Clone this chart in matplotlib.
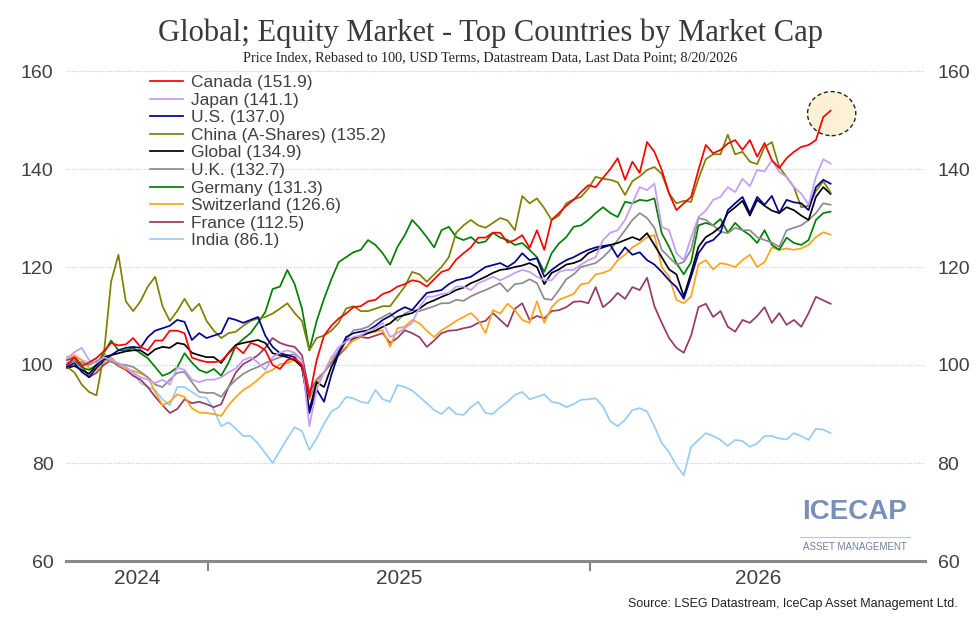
import pandas as pd
import matplotlib
matplotlib.use('Agg')
import matplotlib.pyplot as plt
import matplotlib.dates as mdates
from matplotlib.patches import Ellipse

# weekly closes, rebased to 100
dates = pd.date_range('2024-08-20', periods=105, freq='7D')

canada = [100.0, 101.6, 99.8, 100.5, 101.4, 102.8, 104.5, 104.0, 104.2, 105.5,
          103.7, 103.0, 105.0, 105.0, 107.0, 107.0, 106.5, 101.5, 101.0, 100.6,
          100.6, 100.8, 102.4, 103.7, 102.4, 104.5, 104.0, 103.0, 100.0, 99.2,
          101.0, 101.4, 100.0, 93.5, 101.0, 106.0, 108.0, 109.5, 110.5, 111.8,
          112.0, 113.0, 113.3, 114.5, 115.0, 116.0, 116.5, 117.3, 117.0, 116.0,
          117.5, 119.0, 119.5, 121.5, 122.8, 124.0, 126.0, 126.0, 127.0, 127.0,
          125.0, 125.5, 126.5, 123.9, 127.5, 123.5, 129.6, 131.0, 132.5, 133.7,
          135.3, 136.7, 136.3, 138.2, 140.0, 142.2, 137.8, 141.5, 139.2, 145.5,
          143.5, 139.8, 135.0, 131.6, 133.0, 134.3, 139.8, 144.9, 143.2, 143.9,
          145.2, 145.9, 143.9, 145.9, 142.5, 145.3, 141.8, 140.2, 142.2, 143.5,
          144.5, 144.9, 145.9, 150.6, 151.9]

japan = [101.4, 102.6, 103.5, 101.0, 100.4, 101.6, 101.0, 100.4, 99.6, 98.4,
         97.5, 97.0, 96.3, 97.0, 96.0, 99.5, 99.0, 97.0, 96.5, 97.0,
         97.0, 97.5, 98.5, 99.3, 101.0, 101.6, 100.5, 99.0, 101.6, 102.5,
         103.0, 102.5, 101.0, 87.5, 95.0, 98.5, 101.5, 103.7, 104.8, 105.7,
         106.0, 107.0, 107.5, 108.6, 105.7, 106.5, 107.5, 108.6, 111.8, 113.9,
         114.0, 114.5, 114.7, 116.0, 116.0, 115.3, 116.7, 117.3, 118.0, 117.3,
         118.0, 118.8, 119.4, 119.0, 118.0, 117.3, 117.3, 119.0, 119.4, 119.4,
         120.5, 121.4, 122.0, 125.5, 127.0, 127.5, 129.6, 133.0, 136.3, 135.7,
         137.0, 128.2, 127.5, 122.8, 121.4, 126.0, 130.2, 131.5, 133.7, 134.3,
         136.3, 135.3, 138.0, 136.5, 139.8, 139.5, 141.8, 139.4, 138.4, 136.3,
         135.0, 132.7, 138.4, 142.0, 141.1]

us = [99.6, 100.4, 98.6, 97.5, 99.4, 101.0, 102.0, 103.0, 103.5, 103.7,
      103.5, 105.7, 107.0, 107.5, 108.0, 109.2, 108.8, 105.1, 106.5, 105.5,
      106.0, 106.5, 109.6, 109.2, 108.6, 109.2, 109.8, 106.0, 103.7, 102.4,
      102.0, 101.6, 99.6, 90.2, 95.0, 92.5, 98.0, 102.4, 105.7, 106.5,
      106.8, 107.1, 108.0, 109.2, 110.0, 111.0, 111.8, 111.2, 113.0, 114.7,
      115.0, 115.3, 116.5, 117.3, 117.6, 118.0, 119.0, 120.0, 120.4, 120.8,
      120.0, 121.0, 122.8, 121.4, 121.8, 118.0, 119.4, 120.5, 121.4, 122.0,
      122.8, 123.5, 124.0, 124.3, 124.5, 122.0, 124.0, 122.5, 123.0, 121.4,
      120.5, 119.0, 117.3, 115.9, 113.5, 118.0, 122.8, 124.9, 125.5, 127.0,
      131.6, 133.0, 134.3, 131.0, 134.3, 132.7, 134.5, 131.0, 133.7, 133.2,
      133.0, 131.6, 136.3, 137.8, 137.0]

china = [99.6, 98.5, 96.0, 94.5, 93.8, 102.0, 117.0, 122.5, 113.0, 111.0,
         113.0, 116.0, 118.0, 112.0, 109.0, 111.0, 113.5, 111.0, 112.5, 109.0,
         107.0, 105.5, 106.5, 106.8, 108.0, 109.0, 109.5, 109.8, 110.5, 111.5,
         112.6, 110.6, 109.0, 103.0, 105.5, 106.0, 107.0, 108.6, 111.5, 112.0,
         111.0, 111.0, 111.5, 112.0, 112.0, 114.0, 116.0, 119.0, 118.5, 117.0,
         118.5, 120.0, 122.0, 127.0, 128.5, 129.6, 128.5, 128.0, 129.0, 130.0,
         129.5, 127.5, 134.5, 133.0, 134.0, 132.0, 129.6, 130.5, 133.0, 133.8,
         134.3, 136.0, 138.4, 138.0, 137.8, 137.3, 134.7, 137.5, 138.5, 139.8,
         140.4, 139.0, 135.0, 133.0, 133.5, 133.3, 138.0, 142.0, 143.0, 143.0,
         147.0, 143.0, 143.5, 141.5, 141.0, 144.5, 145.5, 140.4, 138.4, 136.3,
         132.2, 132.5, 135.5, 137.5, 135.2]

global_idx = [99.4, 99.8, 99.0, 98.2, 100.0, 101.6, 102.0, 102.4, 102.8, 103.0,
              103.0, 102.0, 103.2, 103.7, 103.5, 104.5, 104.2, 102.5, 102.0, 101.6,
              101.6, 100.4, 102.5, 104.1, 104.5, 104.8, 105.1, 104.5, 102.4, 102.0,
              101.6, 101.0, 99.6, 90.8, 96.5, 95.5, 99.6, 102.4, 105.0, 105.5,
              106.0, 106.5, 107.0, 107.8, 108.5, 109.8, 110.2, 110.6, 111.5, 112.6,
              113.2, 113.9, 114.5, 115.3, 115.8, 116.7, 117.3, 118.0, 118.8, 119.4,
              119.6, 120.0, 120.3, 120.8, 120.0, 116.5, 118.8, 119.5, 120.5, 120.8,
              121.4, 122.8, 123.5, 124.0, 124.5, 124.9, 125.5, 126.1, 125.5, 126.9,
              124.5, 122.0, 119.5, 118.5, 114.0, 118.8, 124.1, 126.1, 127.0, 128.2,
              131.0, 132.2, 133.5, 130.5, 133.7, 132.5, 131.5, 131.0, 132.2, 131.6,
              130.5, 129.6, 134.3, 136.3, 134.9]

uk = [100.4, 101.0, 100.5, 100.0, 100.8, 101.5, 100.6, 100.2, 100.0, 99.6,
      98.6, 97.5, 96.0, 95.5, 97.0, 98.4, 98.6, 96.5, 94.5, 94.3,
      94.3, 93.5, 95.5, 97.0, 98.2, 99.0, 99.6, 100.4, 101.0, 101.6,
      102.0, 102.2, 101.0, 93.0, 97.0, 98.5, 100.5, 103.0, 105.0, 107.1,
      107.3, 107.8, 109.0, 109.8, 110.6, 109.0, 110.5, 111.2, 111.0, 111.5,
      112.0, 112.6, 112.6, 113.3, 113.1, 114.0, 114.7, 115.3, 116.0, 116.7,
      115.0, 116.5, 116.7, 117.5, 116.7, 113.5, 113.3, 115.3, 117.5, 118.5,
      120.0, 120.4, 120.8, 122.0, 123.5, 125.5, 127.5, 129.6, 131.0, 130.0,
      128.0, 123.5, 122.0, 120.5, 121.0, 123.5, 130.0, 129.6, 128.5, 127.2,
      126.9, 128.0, 127.5, 127.5, 126.1, 125.5, 125.0, 124.1, 127.5, 128.0,
      128.5, 129.6, 131.0, 133.0, 132.7]

germany = [100.0, 101.0, 99.5, 99.0, 100.0, 102.4, 105.0, 103.0, 103.0, 103.5,
           102.4, 101.4, 99.6, 97.8, 98.4, 99.5, 102.4, 100.5, 99.0, 98.4,
           99.2, 97.8, 100.5, 104.0, 105.3, 106.5, 108.6, 110.8, 115.5, 116.0,
           119.4, 116.5, 111.5, 103.0, 109.0, 113.5, 117.5, 121.0, 122.0, 123.0,
           123.5, 125.5, 124.5, 122.8, 120.5, 124.1, 126.5, 129.6, 128.0, 126.1,
           124.0, 127.5, 128.2, 126.1, 125.5, 126.1, 124.9, 125.2, 127.0, 126.0,
           125.5, 124.5, 124.9, 123.5, 122.0, 119.0, 122.8, 124.8, 126.1, 128.2,
           128.5, 129.6, 131.0, 132.2, 131.0, 130.2, 133.3, 133.0, 133.7, 133.5,
           134.0, 126.9, 124.1, 120.8, 118.5, 121.0, 128.5, 129.0, 128.5, 129.8,
           127.0, 129.0, 127.5, 126.5, 124.9, 127.5, 124.5, 123.5, 126.0, 124.9,
           124.5, 125.5, 129.6, 131.0, 131.3]

switzerland = [101.6, 102.0, 101.0, 99.4, 98.8, 100.5, 101.6, 100.0, 99.2, 98.8,
               98.3, 97.5, 94.5, 91.8, 92.5, 94.0, 93.5, 91.2, 90.3, 90.2,
               90.0, 89.6, 91.8, 93.5, 94.9, 95.8, 97.0, 98.4, 99.0, 100.2,
               100.4, 101.0, 100.5, 90.8, 96.0, 98.5, 101.5, 102.4, 103.7, 105.0,
               105.7, 106.5, 106.8, 107.1, 103.7, 107.5, 107.8, 109.2, 108.5, 107.0,
               105.7, 107.1, 108.0, 109.0, 109.8, 110.6, 109.2, 106.5, 111.2, 110.5,
               112.5, 111.2, 109.2, 108.6, 113.0, 108.6, 111.8, 113.3, 113.9, 114.5,
               116.5, 116.7, 118.5, 118.8, 119.4, 121.4, 122.5, 124.0, 124.9, 126.1,
               126.5, 120.0, 118.0, 113.3, 112.6, 114.0, 120.5, 121.4, 119.5, 120.8,
               120.5, 120.0, 121.4, 122.5, 120.0, 121.0, 124.0, 123.5, 123.8, 123.5,
               123.8, 124.5, 126.1, 127.1, 126.6]

france = [101.0, 101.6, 100.0, 97.5, 98.4, 100.0, 101.0, 99.8, 99.0, 97.8,
          97.0, 95.5, 93.5, 91.8, 90.2, 91.0, 93.0, 92.2, 92.5, 92.0,
          91.4, 92.0, 95.5, 98.5, 100.2, 101.0, 102.0, 103.5, 105.5, 104.5,
          104.0, 103.7, 102.0, 94.5, 97.0, 98.5, 100.5, 102.0, 103.5, 105.5,
          105.7, 105.5, 106.0, 106.5, 104.5, 105.5, 107.1, 106.5, 105.7, 103.7,
          105.0, 106.5, 107.0, 107.1, 107.5, 107.8, 108.6, 109.0, 110.6, 109.2,
          107.8, 111.5, 112.6, 109.2, 110.0, 109.5, 111.0, 111.2, 111.8, 112.9,
          113.0, 112.6, 115.9, 111.8, 113.0, 114.7, 113.5, 115.9, 115.3, 117.8,
          112.0, 108.6, 105.5, 103.5, 102.5, 106.0, 111.8, 112.5, 109.8, 111.0,
          107.8, 106.8, 109.2, 108.6, 110.0, 111.8, 108.6, 110.6, 108.2, 109.2,
          107.8, 110.6, 113.9, 113.2, 112.5]

india = [101.0, 101.5, 101.0, 100.5, 101.5, 102.5, 101.0, 99.8, 99.5, 98.4,
         96.3, 95.5, 94.9, 93.0, 91.8, 95.5, 95.5, 94.5, 93.5, 93.3,
         90.8, 87.5, 88.3, 87.0, 85.5, 85.5, 84.0, 82.0, 80.0, 82.5,
         85.0, 87.3, 86.5, 82.7, 85.0, 88.0, 90.5, 91.4, 93.5, 93.2,
         92.5, 92.2, 94.9, 93.0, 92.5, 95.9, 95.5, 94.8, 93.5, 92.2,
         90.8, 90.0, 91.4, 90.0, 89.8, 91.4, 92.5, 90.2, 90.0, 91.4,
         92.5, 93.9, 94.5, 93.0, 93.5, 94.0, 92.5, 92.2, 91.4, 92.0,
         92.9, 93.0, 93.2, 91.5, 88.5, 87.5, 88.8, 90.8, 91.2, 90.5,
         87.5, 84.1, 82.2, 79.5, 77.5, 83.3, 84.7, 86.1, 85.5, 84.7,
         83.5, 84.7, 84.5, 83.3, 84.0, 85.5, 85.5, 85.0, 84.8, 86.1,
         85.5, 84.7, 87.0, 86.8, 86.1]

series = [
    ('Canada', canada, '#ff0000'),
    ('Japan', japan, '#c79cf4'),
    ('U.S.', us, '#000090'),
    ('China (A-Shares)', china, '#808000'),
    ('Global', global_idx, '#000000'),
    ('U.K.', uk, '#8c8c8c'),
    ('Germany', germany, '#008000'),
    ('Switzerland', switzerland, '#ffa31a'),
    ('France', france, '#953a66'),
    ('India', india, '#99ccf5'),
]

plt.rcParams['font.family'] = ['Liberation Sans', 'DejaVu Sans']

fig = plt.figure(figsize=(9.8, 6.32), dpi=100)
ax = fig.add_axes([66 / 980, 1 - 561 / 632, 859 / 980, 490 / 632])

handles = {}
for name, vals, col in reversed(series):
    ln, = ax.plot(dates, vals, color=col, lw=1.25, zorder=3,
                  label=f'{name} ({vals[-1]:.1f})')
    handles[name] = ln

# highlight circle around the latest Canada print
ax.add_patch(Ellipse((mdates.date2num(pd.Timestamp('2026-08-19')), 151.3),
                     width=46, height=9.0, facecolor='#fcf0d6', edgecolor='#222222',
                     linestyle=(0, (3, 2)), lw=1.0, zorder=2))

ax.set_ylim(60, 160)
ax.set_yticks(range(60, 161, 20))
left, right = pd.Timestamp('2024-08-19'), pd.Timestamp('2026-11-16')
ax.set_xlim(left, right)

for s in ['top', 'left', 'right']:
    ax.spines[s].set_visible(False)
ax.spines['bottom'].set_color('#8a8a8a')
ax.spines['bottom'].set_linewidth(2.2)
ax.yaxis.grid(True, linestyle=(0, (1, 1.5)), color='#c8c8c8', lw=0.8, zorder=0)

ax.tick_params(axis='y', length=0, labelsize=14, labelcolor='#404040',
               left=False, right=False, labelleft=True, labelright=True, pad=9)

# year boundary ticks, year labels centred in each segment
bounds = [pd.Timestamp('2025-01-01'), pd.Timestamp('2026-01-01')]
edges = [left] + bounds + [right]
mids = [edges[i] + (edges[i + 1] - edges[i]) / 2 for i in range(3)]
ax.set_xticks(bounds)
ax.set_xticklabels(['', ''])
ax.tick_params(axis='x', which='major', length=7, width=1.2, color='#6a6a6a')
ax.set_xticks(mids, minor=True)
ax.set_xticklabels(['2024', '2025', '2026'], minor=True)
ax.tick_params(axis='x', which='minor', length=0, labelsize=15, labelcolor='#404040', pad=6)

order = [s[0] for s in series]
ax.legend([handles[n] for n in order], [handles[n].get_label() for n in order],
          loc='upper left', bbox_to_anchor=((150 - 66) / 859, 1 - 4 / 490),
          frameon=False, fontsize=12.5, handlelength=1.9, handletextpad=0.45,
          labelspacing=0.14, borderpad=0, borderaxespad=0, labelcolor='#404040')

fig.text(0.5, 1 - 33 / 632, 'Global; Equity Market - Top Countries by Market Cap',
         ha='center', va='center', fontsize=22, color='#3a3a3a', family='Liberation Serif')
fig.text(0.5, 1 - 58 / 632,
         'Price Index, Rebased to 100, USD Terms, Datastream Data, Last Data Point; 8/20/2026',
         ha='center', va='center', fontsize=10.2, color='#222222', family='Liberation Serif')

# logo
fig.text(855 / 980, 1 - 512 / 632, 'ICECAP', ha='center', va='center', fontsize=20,
         fontweight='bold', color='#7890b8')
fig.add_artist(plt.Line2D([800 / 980, 910 / 980], [1 - 537 / 632, 1 - 537 / 632],
                          color='#b9c6da', lw=0.8))
fig.text(855 / 980, 1 - 547 / 632, 'ASSET MANAGEMENT', ha='center', va='center',
         fontsize=7, color='#6f7f98')

fig.text(958 / 980, 1 - 604 / 632, 'Source: LSEG Datastream, IceCap Asset Management Ltd.',
         ha='right', va='center', fontsize=9, color='#222222')

fig.savefig('out.png', dpi=100, facecolor='white')
